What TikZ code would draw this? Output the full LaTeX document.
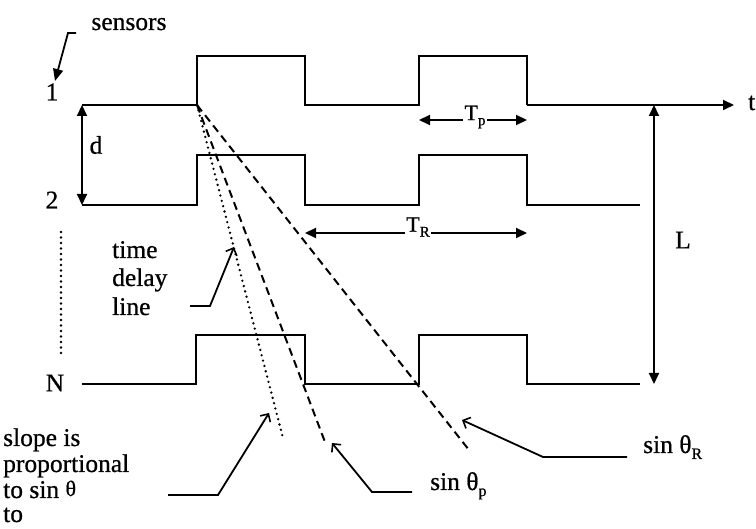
\documentclass[tikz,border=0pt]{standalone}
\usepackage{fontspec}
\setmainfont{Liberation Serif}[UprightFeatures={FakeBold=0.7}]
\usetikzlibrary{arrows.meta}
\begin{document}
\begin{tikzpicture}[x=1pt,y=-1pt,
  wave/.style={line width=1.6pt,line join=miter},
  axis/.style={line width=2pt,-{Triangle[length=11pt,width=10pt]}},
  dimarrow/.style={line width=2pt,{Triangle[length=11pt,width=10pt]}-{Triangle[length=11pt,width=10pt]}},
  callout/.style={line width=1.8pt,-{Straight Barb[length=6pt,width=12pt,line width=1.6pt]}},
  sensarrow/.style={line width=1.8pt,-{Triangle[length=12pt,width=10pt]}},
  dashline/.style={line width=2pt,dash pattern=on 8pt off 5pt},
  dotline/.style={line width=2.6pt,line cap=round,dash pattern=on 0pt off 5.5pt},
  lbl/.style={font=\fontsize{25.5}{27}\selectfont,inner sep=0pt},
  sublbl/.style={font=\fontsize{22}{22}\selectfont,inner sep=1.5pt,fill=white}
]
\useasboundingbox (0,0) rectangle (756,529);

% key coordinates
\coordinate (o) at (197,105);
\coordinate (w1s) at (82,105);
\coordinate (w1e) at (527,105);
\coordinate (tend) at (734,105);
\coordinate (w2s) at (82,205);
\coordinate (Ltop) at (654,105);
\coordinate (Lbot) at (654,384);

% waveform 1
\draw[wave] (w1s) -- (197,105) -- (197,56) -- (305,56) -- (305,105) -- (419,105) -- (419,56) -- (527,56) -- (w1e);
\draw[axis] (w1e) -- (tend);
% waveform 2
\draw[wave] (w2s) -- (197,205) -- (197,155) -- (305,155) -- (305,205) -- (419,205) -- (419,155) -- (527,155) -- (527,205) -- (640,205);
% waveform N
\draw[wave] (82,384) -- (196,384) -- (196,335) -- (305,335) -- (305,384) -- (419,384) -- (419,335) -- (527,335) -- (527,384) -- (640,384);

% labels
\node[lbl,anchor=base] (sens) at (129,30) {sensors};
\node[lbl] (n1) at (52,92) {1};
\node[lbl] (n2) at (52,200) {2};
\node[lbl] (nN) at (55,383) {N};
\node[lbl] (dl) at (96,145) {d};
\node[lbl,anchor=base west] (tl) at (748,110) {t};
\node[lbl] (Ll) at (683,240) {L};

% sensors arrow
\coordinate (sa0) at (76,33);
\coordinate (sa1) at (68,33);
\coordinate (sa2) at (55,81);
\draw[sensarrow] (sa0) -- (sa1) -- (sa2);

% dotted vertical
\coordinate (dv0) at (61,232);
\coordinate (dv1) at (61,358);
\draw[dotline] (dv0) -- (dv1);

% dimension arrows
\draw[dimarrow] (w1s) -- (w2s);
\draw[dimarrow] (Ltop) -- (Lbot);
\coordinate (tp0) at (419,120);
\coordinate (tp1) at (527,120);
\draw[dimarrow] (tp0) -- (tp1);
\node[sublbl] (Tp) at (475,117) {T\raisebox{-5pt}{\fontsize{15}{15}\selectfont p}};
\coordinate (tr0) at (305,233);
\coordinate (tr1) at (527,233);
\draw[dimarrow] (tr0) -- (tr1);
\node[sublbl] (TR) at (418,227) {T\raisebox{-5pt}{\fontsize{15}{15}\selectfont R}};

% delay lines
\coordinate (e1) at (283,438);
\coordinate (e2) at (325,442);
\coordinate (e3) at (469,450);
\draw[dotline] (o) -- (e1);
\draw[dashline] (o) -- (e2);
\draw[dashline] (o) -- (e3);

% time delay line
\node[lbl,anchor=base west] (td1) at (112,258) {time};
\node[lbl,anchor=base west] (td2) at (112,286) {delay};
\node[lbl,anchor=base west] (td3) at (112,315) {line};
\coordinate (ca0) at (190,306);
\coordinate (ca1) at (210,306);
\coordinate (ca2) at (234,247);
\draw[callout] (ca0) -- (ca1) -- (ca2);

% slope text
\node[lbl,anchor=base west] (s1) at (3,446) {slope is};
\node[lbl,anchor=base west] (s2) at (3,472) {proportional};
\node[lbl,anchor=base west] (s3) at (3,498) {to sin \raisebox{2pt}{\fontsize{22}{22}\selectfont θ}};
\node[lbl,anchor=base west] (s4) at (3,522) {to};
\coordinate (cb0) at (168,495);
\coordinate (cb1) at (218,495);
\coordinate (cb2) at (269,413);
\draw[callout] (cb0) -- (cb1) -- (cb2);

% sin theta p
\node[lbl,anchor=base west] (sp) at (430,490) {sin θ\raisebox{-6pt}{\fontsize{16}{16}\selectfont p}};
\coordinate (cc0) at (412,492);
\coordinate (cc1) at (372,492);
\coordinate (cc2) at (332,443);
\draw[callout] (cc0) -- (cc1) -- (cc2);

% sin theta R
\node[lbl,anchor=base west] (sr) at (643,453) {sin θ\raisebox{-6pt}{\fontsize{16}{16}\selectfont R}};
\coordinate (cd0) at (627,457);
\coordinate (cd1) at (543,457);
\coordinate (cd2) at (462,420);
\draw[callout] (cd0) -- (cd1) -- (cd2);
\end{tikzpicture}
\end{document}
